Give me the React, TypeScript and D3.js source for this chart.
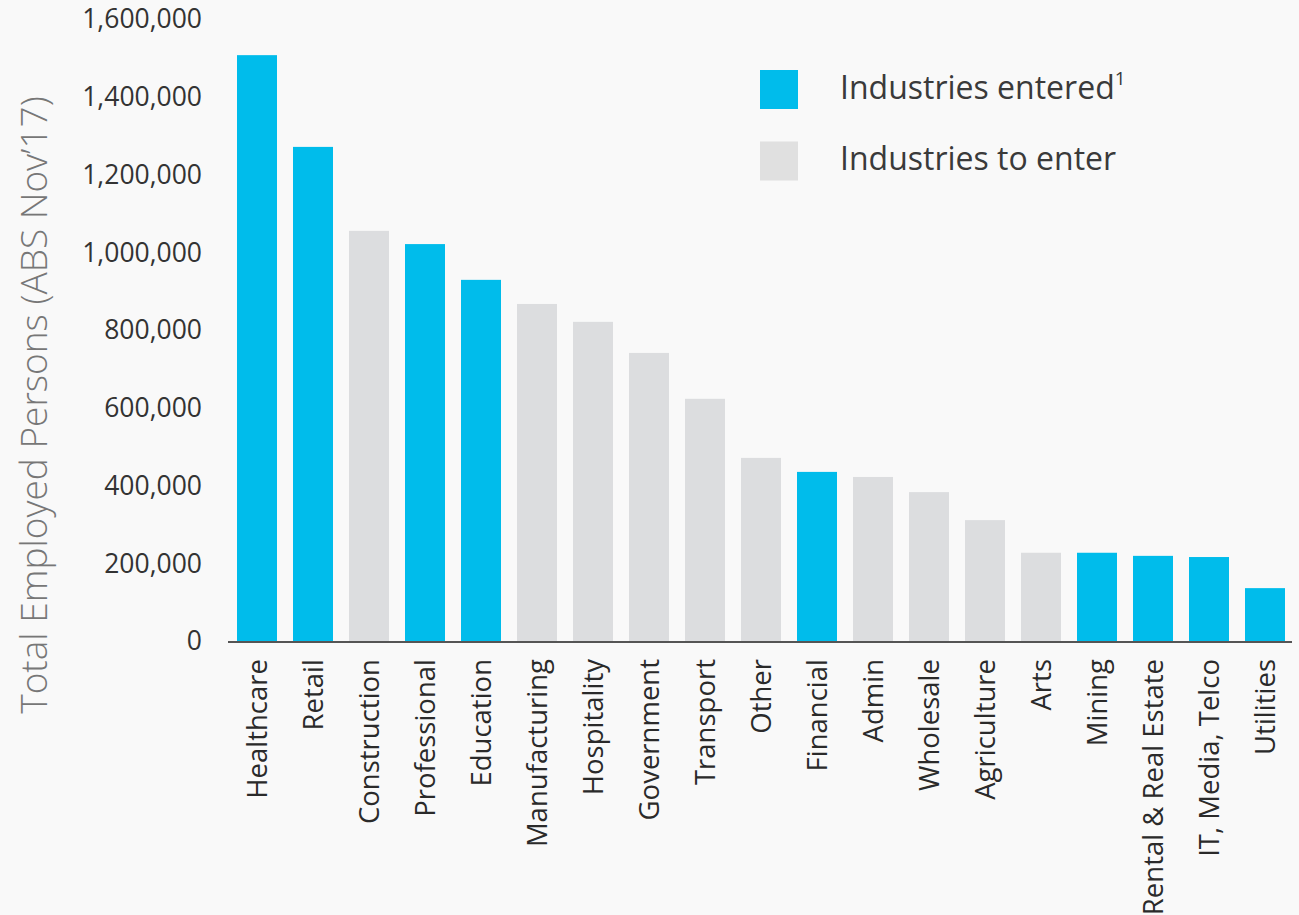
import React, { useEffect, useRef } from "react";
import * as d3 from "d3";

const categories = [
  "Healthcare", "Retail", "Construction", "Professional", "Education",
  "Manufacturing", "Hospitality", "Government", "Transport", "Other",
  "Financial", "Admin", "Wholesale", "Agriculture", "Arts", "Mining",
  "Rental & Real Estate", "IT, Media, Telco", "Utilities",
];
const values = [
  1507000, 1271000, 1055000, 1021000, 929000,
  867000, 821000, 741000, 623000, 471000,
  435000, 422000, 383000, 311000, 227000, 227000,
  219000, 216000, 136000,
];
const entered = [
  true, true, false, true, true,
  false, false, false, false, false,
  true, false, false, false, false, true,
  true, true, true,
];
const yTicks = [0, 200000, 400000, 600000, 800000, 1000000, 1200000, 1400000, 1600000];

const BLUE = "#00BCEB";
const GRAY = "#DCDDDF";
const FONT = "'Open Sans', 'Noto Sans', sans-serif";

export default function App() {
  const ref = useRef<SVGSVGElement | null>(null);

  useEffect(() => {
    document.body.style.margin = "0";
    const svg = d3.select(ref.current);
    svg.selectAll("*").remove();

    const W = 1299, H = 915;
    svg.append("rect").attr("width", W).attr("height", H).attr("fill", "#f9f9f9");

    const x = d3.scaleBand<string>()
      .domain(categories)
      .range([229, 1293])
      .paddingInner(16 / 56)
      .paddingOuter(8 / 56);
    const y = d3.scaleLinear().domain([0, 1600000]).range([641, 19]);

    // bars
    svg.append("g").selectAll("rect")
      .data(categories)
      .join("rect")
      .attr("x", (d) => x(d)!)
      .attr("width", x.bandwidth())
      .attr("y", (_, i) => y(values[i]))
      .attr("height", (_, i) => y(0) - y(values[i]))
      .attr("fill", (_, i) => (entered[i] ? BLUE : GRAY));

    // baseline
    svg.append("line")
      .attr("x1", 228).attr("x2", 1292)
      .attr("y1", y(0) + 1).attr("y2", y(0) + 1)
      .attr("stroke", "#555").attr("stroke-width", 2);

    // y tick labels
    const fmt = d3.format(",");
    svg.append("g").selectAll("text")
      .data(yTicks)
      .join("text")
      .attr("x", 202)
      .attr("y", (d) => y(d))
      .attr("dy", "0.35em")
      .attr("text-anchor", "end")
      .attr("font-family", FONT)
      .attr("font-size", 26.5)
      .attr("fill", "#333")
      .text((d) => fmt(d));

    // x labels
    svg.append("g").selectAll("text")
      .data(categories)
      .join("text")
      .attr("transform", (d) => `translate(${x(d)! + x.bandwidth() / 2},659) rotate(-90)`)
      .attr("dy", "0.35em")
      .attr("text-anchor", "end")
      .attr("font-family", FONT)
      .attr("font-size", 27.5)
      .attr("fill", "#2a2a2a")
      .text((d) => d);

    // y title
    svg.append("text")
      .attr("transform", "translate(34,405) rotate(-90)")
      .attr("dy", "0.35em")
      .attr("text-anchor", "middle")
      .attr("font-family", FONT)
      .attr("font-weight", 300)
      .attr("font-size", 37)
      .attr("fill", "#777")
      .text("Total Employed Persons (ABS Nov\u201917)");

    // legend
    const legend = [
      { label: "Industries entered", color: BLUE, sup: "1" },
      { label: "Industries to enter", color: "#E0E0E0", sup: "" },
    ];
    const lg = svg.append("g");
    legend.forEach((l, i) => {
      const cy = 89.5 + i * 71.5;
      lg.append("rect")
        .attr("x", 760).attr("y", cy - 19.5)
        .attr("width", 38).attr("height", 39)
        .attr("fill", l.color);
      const t = lg.append("text")
        .attr("x", 840).attr("y", cy - 2)
        .attr("dy", "0.35em")
        .attr("font-family", FONT)
        .attr("font-size", 32)
        .attr("fill", "#3a3a3a")
        .text(l.label);
      if (l.sup) {
        t.append("tspan")
          .attr("font-size", 19)
          .attr("baseline-shift", "75%")
          .text(l.sup);
      }
    });
  }, []);

  return (
    <svg
      ref={ref}
      width={1299}
      height={915}
      style={{ position: "absolute", left: 0, top: 0, display: "block" }}
    />
  );
}
